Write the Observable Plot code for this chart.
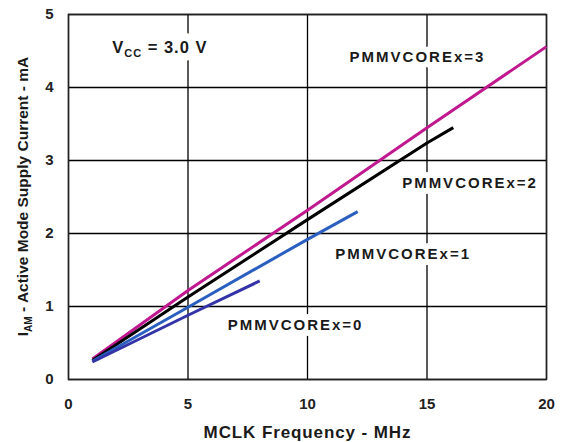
<!DOCTYPE html>
<html><head><meta charset="utf-8">
<script src="https://cdn.jsdelivr.net/npm/d3@7"></script>
<script src="https://cdn.jsdelivr.net/npm/@observablehq/plot@0.6"></script>
<style>body{margin:0;background:#fff} svg{display:block}</style>
</head><body><div id="chart"></div>
<script>
// ---- data ----
const xTicks = [0, 5, 10, 15, 20];
const yTicks = [0, 1, 2, 3, 4, 5];

const seriesNames = ["PMMVCOREx=3", "PMMVCOREx=2", "PMMVCOREx=1", "PMMVCOREx=0"];
const seriesColors = ["#c0188f", "#000000", "#2a5fc0", "#3434a8"];

const freq3 = [1, 5, 10, 15, 20];
const curr3 = [0.28, 1.22, 2.32, 3.45, 4.56];
const freq2 = [1, 5, 10, 15, 16.1];
const curr2 = [0.26, 1.13, 2.19, 3.24, 3.45];
const freq1 = [1, 5, 10, 12.1];
const curr1 = [0.25, 0.99, 1.92, 2.3];
const freq0 = [1, 5, 8];
const curr0 = [0.24, 0.88, 1.35];

// label anchor positions (data units)
const labelX = [14.6, 16.8, 14.0, 9.5];
const labelY = [4.41, 2.69, 1.71, 0.74];

const vccX = 1.85, vccY = 4.55;
const xTitle = "MCLK Frequency - MHz";
const yTitleMain = "I", yTitleSub = "AM", yTitleRest = " - Active Mode Supply Current - mA";

// ---- build ----
const FONT = "'Liberation Sans', Arial, sans-serif";
const freqs = [freq3, freq2, freq1, freq0];
const currs = [curr3, curr2, curr1, curr0];
const lineMarks = freqs.map((fx, i) =>
  Plot.line(fx.map((f, j) => ({f, c: currs[i][j]})), {
    x: "f", y: "c", stroke: seriesColors[i], strokeWidth: 3, strokeLinecap: "butt"
  })
);
const labels = seriesNames.map((n, i) => ({n, x: labelX[i], y: labelY[i]}));

const plot = Plot.plot({
  width: 568, height: 442,
  marginLeft: 68, marginRight: 22, marginTop: 14, marginBottom: 63,
  style: {fontFamily: FONT, fontSize: "15px", fontWeight: "bold", color: "#222", background: "#fff"},
  x: {domain: [0, 20], ticks: xTicks, tickFormat: d => String(d), tickSize: 0, tickPadding: 19, label: null},
  y: {domain: [0, 5], ticks: yTicks, tickFormat: d => String(d), tickSize: 0, tickPadding: 15, label: null},
  marks: [
    Plot.gridX(xTicks, {stroke: "#000", strokeOpacity: 1, strokeWidth: 1.3}),
    Plot.gridY(yTicks, {stroke: "#000", strokeOpacity: 1, strokeWidth: 1.3}),
    Plot.frame({stroke: "#222", strokeWidth: 1.5}),
    Plot.text(labels, {x: "x", y: "y", text: "n", fontSize: 15, fontWeight: "bold", fill: "#1a1a1a",
      stroke: "white", strokeWidth: 12, paintOrder: "stroke"}),
    ...lineMarks,
    Plot.text([xTitle], {frameAnchor: "bottom", dy: 58, text: d => d, fontSize: 17, fontWeight: "bold", fill: "#1a1a1a"})
  ]
});
document.getElementById("chart").appendChild(plot);

const svg = d3.select(plot);
svg.selectAll('g[aria-label="text"] text').attr("letter-spacing", "2px");
svg.selectAll('g[aria-label="text"]').filter(function(){ const t = this.querySelector("text"); return t && t.textContent === xTitle; })
  .selectAll("text").attr("letter-spacing", "0.9px");

const sx = plot.scale("x"), sy = plot.scale("y");

// Vcc annotation with subscript (halo drawn separately behind)
const vx = sx.apply(vccX), vy = sy.apply(vccY);
function vccText(halo) {
  const t = svg.append("text")
    .attr("x", vx).attr("y", vy).attr("dy", "0.35em")
    .attr("text-anchor", "start")
    .attr("font-family", FONT)
    .attr("font-size", 16.5).attr("font-weight", "bold").attr("letter-spacing", "1px");
  if (halo) t.attr("fill", "white").attr("stroke", "white").attr("stroke-width", 16).attr("stroke-linejoin", "round");
  else t.attr("fill", "#1a1a1a");
  t.append("tspan").text("V");
  t.append("tspan").attr("font-size", 11).attr("dy", 4).text("CC");
  t.append("tspan").attr("dy", -4).text(" = 3.0 V");
}
vccText(true);
vccText(false);

// Y axis title with subscript
const cy = (sy.apply(0) + sy.apply(5)) / 2;
const yt = svg.append("text")
  .attr("transform", `translate(23,${cy}) rotate(-90)`)
  .attr("text-anchor", "middle").attr("dy", "0.35em")
  .attr("font-family", FONT)
  .attr("font-size", 15.5).attr("fill", "#1a1a1a");
yt.append("tspan").text(yTitleMain);
yt.append("tspan").attr("font-size", 10).attr("dy", 4).text(yTitleSub);
yt.append("tspan").attr("dy", -4).text(yTitleRest);
</script>
</body></html>
